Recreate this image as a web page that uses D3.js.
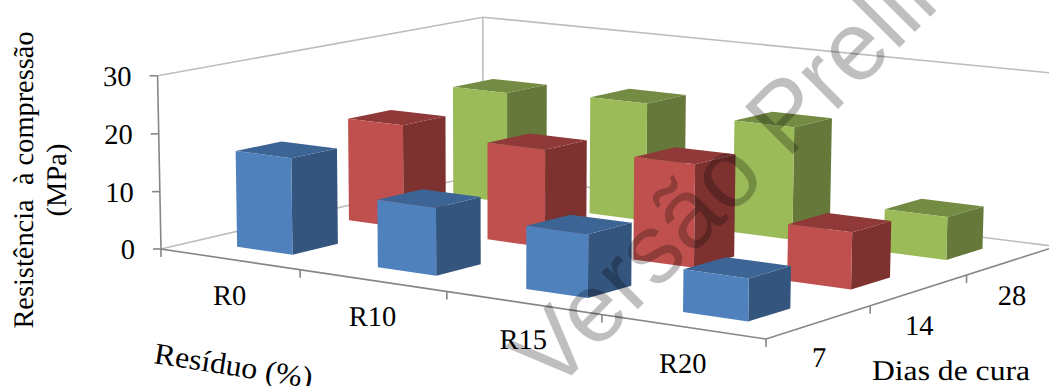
<!DOCTYPE html>
<html lang="pt">
<head>
<meta charset="utf-8">
<title>Resistência à compressão</title>
<script src="https://cdn.jsdelivr.net/npm/d3@7/dist/d3.min.js"></script>
<style>
  html, body { margin: 0; padding: 0; background: #fff; }
  svg { display: block; }
  text { font-family: "Liberation Serif", "Times New Roman", serif; fill: #000; text-rendering: geometricPrecision; }
</style>
</head>
<body>
<svg id="chart" width="1049" height="386"></svg>
<script>
// Compressive strength (MPa) by residue content and curing age
const residues = ["R0", "R10", "R15", "R20"];
const cureDays = ["7", "14", "28"];
const strength7 = [16.7, 11.5, 10.5, 6.9];
const strength14 = [18.3, 17.0, 17.6, 9.5];
const strength28 = [20.2, 21.1, 19.8, 7.4];
const strengthTicks = [0, 10, 20, 30];

const seriesByDay = [
  { day: "7", values: strength7, front: "#4f81bd", side: "#34557e", top: "#3c6494" },
  { day: "14", values: strength14, front: "#c0504d", side: "#7d3230", top: "#8f3a38" },
  { day: "28", values: strength28, front: "#9bbb59", side: "#66793a", top: "#738b42" }
];

const svg = d3.select("#chart");

// Normalised box coordinates: u along residue, w into depth, v up
const uScale = d3.scaleBand().domain(residues).range([0, 1]).paddingInner(0.6).paddingOuter(0.3);
const wScale = d3.scaleBand().domain(cureDays).range([0, 1]).paddingInner(0.6).paddingOuter(0.3);
const vScale = d3.scaleLinear().domain([0, 30]).range([0, 1]);

// Perspective camera of the 3D box, as a 3x4 projective matrix
const camera = {
  x: [525.24, 374.42, -5, 161],
  y: [54.7, -56.11, -174, 249],
  h: [-0.10412, 0.10854, -0.01, 1]
};
function project(u, w, v) {
  const dot = r => r[0] * u + r[1] * w + r[2] * v + r[3];
  const d = dot(camera.h);
  return [dot(camera.x) / d, dot(camera.y) / d];
}
const line3d = pts => "M" + pts.map(p => project(p[0], p[1], p[2]).join(",")).join("L");

// Walls and floor of the box
const wallColor = "#bdbdbd";
const axisColor = "#868686";
const frame = svg.append("g").attr("fill", "none");
frame.append("path").attr("stroke", wallColor).attr("stroke-width", 1.6)
  .attr("d", line3d([[0, 0, 1], [0, 1, 1], [1, 1, 1]]));
frame.append("path").attr("stroke", wallColor).attr("stroke-width", 1.6)
  .attr("d", line3d([[0, 1, 1], [0, 1, 0]]));
frame.append("path").attr("stroke", wallColor).attr("stroke-width", 1.6)
  .attr("d", line3d([[0, 0, 0], [0, 1, 0], [1, 1, 0]]));
frame.append("path").attr("stroke", axisColor).attr("stroke-width", 1.6)
  .attr("d", line3d([[0, 0, 1], [0, 0, 0], [1, 0, 0], [1, 1, 0]]));

// Axis tick marks
const tickLen = 8;
strengthTicks.forEach(t => {
  const [x, y] = project(0, 0, vScale(t));
  frame.append("line").attr("stroke", axisColor).attr("stroke-width", 1.6)
    .attr("x1", x - tickLen).attr("x2", x).attr("y1", y).attr("y2", y);
});
const uStep = uScale.step();
const wStep = wScale.step();
d3.range(residues.length + 1).forEach(i => {
  const [x, y] = project(i * uStep, 0, 0);
  frame.append("line").attr("stroke", axisColor).attr("stroke-width", 1.6)
    .attr("x1", x).attr("x2", x).attr("y1", y).attr("y2", y + tickLen);
});
d3.range(1, cureDays.length + 1).forEach(i => {
  const [x, y] = project(1, i * wStep, 0);
  frame.append("line").attr("stroke", axisColor).attr("stroke-width", 1.6)
    .attr("x1", x).attr("x2", x).attr("y1", y).attr("y2", y + tickLen);
});

// Bars are painted from the back row forward, left to right in each row
const bars = svg.append("g");
seriesByDay.slice().reverse().forEach(s => {
  residues.forEach((r, i) => {
    const u0 = uScale(r), u1 = u0 + uScale.bandwidth();
    const w0 = wScale(s.day), w1 = w0 + wScale.bandwidth();
    const v = vScale(s.values[i]);
    const g = bars.append("g");
    g.append("path").attr("fill", s.side)
      .attr("d", line3d([[u1, w0, 0], [u1, w1, 0], [u1, w1, v], [u1, w0, v]]) + "Z");
    g.append("path").attr("fill", s.top)
      .attr("d", line3d([[u0, w0, v], [u1, w0, v], [u1, w1, v], [u0, w1, v]]) + "Z");
    g.append("path").attr("fill", s.front)
      .attr("d", line3d([[u0, w0, 0], [u1, w0, 0], [u1, w0, v], [u0, w0, v]]) + "Z");
  });
});

// Tick labels
const labelSize = 28.5;
const labels = svg.append("g").attr("font-size", labelSize);
strengthTicks.forEach(t => {
  const [x, y] = project(0, 0, vScale(t));
  labels.append("text").attr("x", x - 26).attr("y", y + 10).attr("text-anchor", "end").text(t);
});
residues.forEach(r => {
  const [x, y] = project(uScale(r) + uScale.bandwidth() / 2, 0, 0);
  labels.append("text").attr("x", x).attr("y", y + 46).attr("text-anchor", "middle").text(r);
});
cureDays.forEach(d => {
  const [x, y] = project(1, wScale(d) + wScale.bandwidth() / 2, 0);
  labels.append("text").attr("x", x).attr("y", y + 44.5).attr("text-anchor", "middle").text(d);
});

// Axis titles
const titles = svg.append("g").attr("font-size", labelSize);
titles.append("text").attr("transform", "translate(33,180) rotate(-90)")
  .attr("text-anchor", "middle").attr("font-size", 28.4).style("white-space", "pre")
  .text("Resistência  à compressão");
titles.append("text").attr("transform", "translate(66,180) rotate(-90)")
  .attr("text-anchor", "middle").text("(MPa)");
titles.append("text").attr("transform", "translate(153,363) rotate(9)")
  .attr("font-size", 30).attr("textLength", 160).attr("lengthAdjust", "spacingAndGlyphs")
  .text("Resíduo (%)");
titles.append("text").attr("x", 872).attr("y", 380)
  .attr("textLength", 158).attr("lengthAdjust", "spacingAndGlyphs").text("Dias de cura");

// Diagonal stamp across the plot
svg.append("text").attr("transform", "translate(552,395) rotate(-45)")
  .style("font-family", '"Liberation Sans", Arial, sans-serif')
  .style("fill", "#000").style("fill-opacity", 0.25)
  .attr("font-size", 98).text("Versão Preliminar");
</script>
</body>
</html>
